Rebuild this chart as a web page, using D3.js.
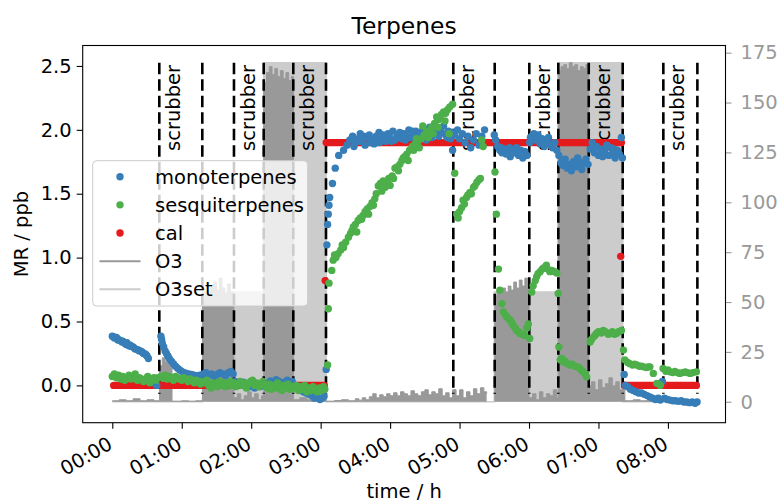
<!DOCTYPE html>
<html>
<head>
<meta charset="utf-8">
<script src="https://cdn.jsdelivr.net/npm/d3@7"></script>
<style>
  body { margin: 0; background: #fff; }
  text { font-family: "DejaVu Sans", sans-serif; }
</style>
</head>
<body>
<svg id="chart" width="779" height="502"></svg>
<script>
// ---- data (time in hours) ----
const hourTicks = [0, 1, 2, 3, 4, 5, 6, 7, 8]
const mrTicks = [0, 0.5, 1, 1.5, 2, 2.5]
const o3Ticks = [0, 25, 50, 75, 100, 125, 150, 175]

const scrubberStart = [0.677, 1.752, 2.606, 4.91, 6.004, 6.86, 7.934]
const scrubberEnd = [1.296, 2.18, 3.077, 5.506, 6.422, 7.349, 8.424]

const mono = [
  [0.00,0.385],[0.02,0.38],[0.03,0.37],[0.06,0.375],[0.08,0.355],[0.09,0.36],[0.12,0.35],[0.14,0.34],
  [0.15,0.345],[0.18,0.33],[0.20,0.32],[0.21,0.335],[0.24,0.31],[0.26,0.315],[0.27,0.305],[0.30,0.30],
  [0.32,0.29],[0.33,0.285],[0.36,0.28],[0.38,0.275],[0.39,0.27],[0.42,0.265],[0.44,0.255],[0.45,0.25],
  [0.48,0.245],[0.49,0.235],[0.50,0.23],[0.52,0.21],[0.56,0.03],[0.60,0.02],[0.64,0.0],
  [0.70,0.385],[0.71,0.36],[0.72,0.33],[0.74,0.30],[0.76,0.27],[0.78,0.25],[0.80,0.23],[0.82,0.21],
  [0.85,0.19],[0.88,0.17],[0.91,0.15],[0.94,0.135],[0.97,0.12],[1.00,0.11],[1.03,0.10],[1.06,0.095],
  [1.10,0.09],[1.14,0.085],[1.18,0.08],[1.22,0.075],[1.26,0.08],
  [1.31,0.09],[1.35,0.10],[1.39,0.08],[1.43,0.09],[1.47,0.07],[1.51,0.085],[1.55,0.10],[1.59,0.09],
  [1.63,0.075],[1.67,0.10],[1.71,0.11],[1.74,0.09],
  [1.77,0.03],[1.81,0.02],[1.85,0.01],[1.89,0.025],[1.93,0.0],[1.97,-0.01],[2.01,0.01],[2.05,-0.02],
  [2.09,0.0],[2.13,-0.01],[2.16,0.005],
  [2.20,0.02],[2.24,0.01],[2.28,0.035],[2.32,0.02],[2.36,0.045],[2.40,0.03],[2.44,0.01],[2.48,0.025],
  [2.52,0.04],[2.56,0.02],[2.59,0.03],
  [2.63,0.0],[2.67,-0.02],[2.71,-0.03],[2.75,-0.05],[2.79,-0.06],[2.83,-0.07],[2.87,-0.08],[2.91,-0.10],
  [2.95,-0.09],[2.99,-0.11],[3.02,-0.10],[3.05,-0.085],
  [3.08,0.125],[3.09,1.10],[3.10,1.26],[3.11,1.34],[3.12,1.41],[3.13,1.47],[3.17,1.58],[3.21,1.70],
  [3.26,1.80],[3.33,1.84],[3.38,1.88],[3.42,1.92],
  [3.46,1.95],[3.48,1.87],[3.50,1.90],[3.54,1.93],[3.56,1.91],[3.57,1.97],[3.60,1.91],[3.62,1.95],
  [3.64,1.88],[3.67,1.94],[3.70,1.96],[3.72,1.90],[3.74,1.92],[3.77,1.89],[3.79,1.93],[3.80,1.95],
  [3.84,1.98],[3.85,1.90],[3.87,1.93],[3.90,1.96],[3.92,1.94],[3.94,1.91],[3.97,1.97],[4.00,1.94],
  [4.02,1.91],[4.04,1.99],[4.07,1.92],[4.10,1.96],[4.12,1.94],[4.14,1.98],[4.17,1.93],[4.20,1.97],
  [4.22,1.92],[4.24,1.95],[4.27,2.00],[4.30,1.94],[4.32,1.99],[4.34,1.97],[4.37,1.99],[4.40,1.93],
  [4.42,1.97],[4.44,1.96],[4.47,2.00],[4.50,1.95],[4.52,1.92],[4.54,1.98],[4.57,2.02],[4.60,1.94],
  [4.62,2.00],[4.64,1.97],[4.67,2.01],[4.70,1.95],[4.72,1.99],[4.74,1.98],[4.77,2.03],[4.80,1.96],
  [4.82,1.94],[4.84,1.99],[4.87,1.93],[4.88,1.98],[4.90,1.84],
  [4.93,1.96],[4.97,2.00],[5.00,1.93],[5.04,1.97],[5.08,1.90],[5.12,1.95],[5.16,1.86],[5.20,1.92],
  [5.24,1.97],[5.28,1.88],[5.32,1.95],[5.36,2.00],
  [5.50,1.96],[5.52,1.92],[5.55,1.87],[5.58,1.84],[5.60,1.86],[5.61,1.82],[5.64,1.85],[5.67,1.81],
  [5.70,1.83],[5.72,1.86],[5.73,1.79],[5.76,1.84],[5.79,1.82],[5.82,1.86],[5.85,1.80],[5.86,1.83],
  [5.88,1.84],[5.91,1.78],[5.94,1.83],[5.97,1.80],
  [6.01,1.90],[6.02,1.94],[6.04,1.95],[6.07,1.97],[6.10,1.92],[6.13,1.96],[6.15,1.93],[6.16,1.89],
  [6.19,1.93],[6.22,1.87],[6.25,1.91],[6.27,1.90],[6.28,1.94],[6.31,1.88],[6.34,1.86],[6.37,1.90],[6.40,1.84],
  [6.43,1.80],[6.46,1.74],[6.48,1.76],[6.49,1.72],[6.52,1.77],[6.55,1.70],[6.58,1.73],[6.60,1.71],
  [6.61,1.68],[6.64,1.75],[6.67,1.71],[6.70,1.78],[6.72,1.75],[6.73,1.72],[6.76,1.69],[6.79,1.74],
  [6.82,1.77],[6.85,1.73],
  [6.88,1.85],[6.91,1.90],[6.93,1.86],[6.94,1.82],[6.97,1.87],[7.00,1.80],[7.03,1.85],[7.06,1.79],
  [7.08,1.82],[7.09,1.84],[7.12,1.88],[7.15,1.80],[7.18,1.86],[7.21,1.82],[7.22,1.85],[7.24,1.78],
  [7.27,1.84],[7.30,1.81],[7.33,1.94],[7.345,1.78],
  [7.37,0.086],[7.39,0.0],[7.42,-0.01],[7.46,-0.03],[7.50,-0.04],[7.54,-0.05],[7.58,-0.06],[7.62,-0.06],
  [7.66,-0.07],[7.70,-0.08],[7.74,-0.09],[7.78,-0.10],[7.82,-0.11],[7.86,-0.10],[7.89,-0.115],[7.92,0.03],
  [7.95,-0.10],[7.99,-0.11],[8.03,-0.115],[8.07,-0.12],[8.11,-0.12],[8.15,-0.125],[8.19,-0.12],[8.23,-0.13],
  [8.27,-0.13],[8.31,-0.135],[8.35,-0.13],[8.39,-0.14],[8.42,-0.13]
]

const sesqui = [
  [0.00,0.07],[0.03,0.09],[0.06,0.06],[0.09,0.08],[0.12,0.05],[0.15,0.07],[0.18,0.04],[0.21,0.06],
  [0.24,0.08],[0.27,0.05],[0.30,0.07],[0.33,0.09],[0.36,0.04],[0.39,0.06],[0.42,0.05],[0.45,0.03],
  [0.48,0.05],[0.51,0.07],[0.54,0.02],[0.57,0.05],[0.60,0.06],[0.63,0.04],[0.66,0.06],
  [0.70,0.07],[0.73,0.06],[0.76,0.08],[0.79,0.05],[0.82,0.07],[0.85,0.06],[0.88,0.04],[0.91,0.07],
  [0.94,0.06],[0.97,0.05],[1.00,0.04],[1.03,0.06],[1.06,0.05],[1.09,0.03],[1.12,0.05],[1.15,0.04],
  [1.18,0.02],[1.21,0.04],[1.24,0.03],[1.27,0.01],
  [1.30,0.03],[1.33,0.02],[1.36,0.04],[1.39,0.0],[1.42,-0.02],[1.45,0.02],[1.48,0.01],[1.51,-0.01],
  [1.54,0.03],[1.57,0.0],[1.60,0.02],[1.63,-0.01],[1.66,0.01],[1.69,0.03],[1.72,0.0],
  [1.75,0.02],[1.78,-0.01],[1.81,0.01],[1.84,0.03],[1.87,0.0],[1.90,0.02],[1.93,-0.02],[1.96,0.01],
  [1.99,0.03],[2.02,0.04],[2.05,0.0],[2.08,0.02],[2.11,-0.01],[2.14,0.01],[2.17,0.03],
  [2.20,0.0],[2.23,-0.02],[2.26,0.01],[2.29,-0.03],[2.32,0.0],[2.35,-0.02],[2.38,0.02],[2.41,-0.01],
  [2.44,-0.04],[2.47,0.0],[2.50,-0.02],[2.53,0.01],[2.56,-0.03],[2.59,-0.01],
  [2.62,-0.02],[2.65,0.0],[2.68,-0.04],[2.71,-0.01],[2.74,-0.03],[2.77,0.0],[2.80,-0.05],[2.83,-0.02],
  [2.86,-0.04],[2.89,-0.01],[2.92,-0.03],[2.95,-0.05],[2.98,-0.02],[3.01,-0.04],[3.04,-0.01],[3.06,-0.03],
  [3.10,0.16],[3.11,0.60],[3.12,0.80],[3.16,0.90],[3.18,0.98],[3.20,1.02],[3.22,1.00],[3.25,1.03],
  [3.29,1.06],[3.31,1.10],[3.33,1.08],[3.36,1.12],[3.40,1.16],[3.43,1.19],[3.45,1.21],[3.47,1.24],
  [3.50,1.26],[3.52,1.20],[3.54,1.29],[3.57,1.31],[3.59,1.30],[3.61,1.33],[3.64,1.36],[3.67,1.38],
  [3.69,1.34],[3.71,1.40],[3.74,1.43],[3.76,1.41],[3.78,1.46],[3.80,1.50],[3.83,1.56],[3.86,1.58],
  [3.88,1.52],[3.90,1.60],[3.93,1.55],[3.96,1.58],[3.98,1.62],[4.00,1.565],[4.03,1.64],[4.05,1.62],
  [4.07,1.70],[4.10,1.71],[4.12,1.68],[4.14,1.73],[4.17,1.76],[4.19,1.78],[4.21,1.79],[4.24,1.81],
  [4.26,1.76],[4.28,1.84],[4.32,1.87],[4.34,1.84],[4.36,1.89],[4.38,1.93],[4.40,1.91],[4.42,1.86],
  [4.45,1.93],[4.47,2.03],[4.49,1.96],[4.51,1.95],[4.53,1.99],[4.55,1.94],[4.57,1.98],[4.60,2.02],
  [4.62,1.97],[4.64,2.05],[4.67,2.10],[4.69,2.02],[4.70,2.08],[4.74,2.12],[4.77,2.14],[4.79,2.07],
  [4.80,2.13],[4.83,2.16],[4.85,1.97],[4.86,2.18],[4.90,2.20],
  [4.93,1.66],[4.96,1.34],[4.98,1.31],[5.00,1.36],[5.03,1.39],[5.05,1.45],[5.07,1.42],[5.10,1.47],
  [5.12,1.49],[5.15,1.51],[5.17,1.50],[5.20,1.55],[5.22,1.56],[5.25,1.59],[5.28,1.61],[5.30,1.62],
  [5.32,1.92],[5.34,1.87],
  [5.51,1.67],[5.53,1.34],[5.56,0.91],[5.58,0.745],[5.61,0.64],[5.63,0.575],[5.66,0.55],[5.68,0.536],
  [5.71,0.52],[5.73,0.51],[5.75,0.49],[5.77,0.47],[5.80,0.45],[5.82,0.43],[5.85,0.42],[5.87,0.406],
  [5.90,0.40],[5.94,0.39],[5.97,0.45],[5.99,0.48],[6.01,0.367],
  [6.04,0.73],[6.06,0.78],[6.09,0.82],[6.11,0.85],[6.13,0.875],[6.16,0.89],[6.19,0.91],[6.21,0.92],
  [6.25,0.94],[6.27,0.91],[6.30,0.89],[6.33,0.90],[6.37,0.89],[6.40,0.88],[6.42,0.72],
  [6.43,0.30],[6.45,0.20],[6.47,0.21],[6.49,0.185],[6.52,0.19],[6.55,0.17],[6.59,0.16],[6.62,0.165],
  [6.66,0.15],[6.69,0.145],[6.72,0.14],[6.75,0.12],[6.78,0.106],[6.81,0.09],[6.83,0.067],
  [6.88,0.34],[6.90,0.36],[6.93,0.38],[6.95,0.39],[6.97,0.406],[7.00,0.42],[7.04,0.41],[7.07,0.43],
  [7.10,0.42],[7.14,0.40],[7.17,0.406],[7.20,0.42],[7.23,0.40],[7.26,0.406],[7.29,0.42],[7.33,0.43],
  [7.36,0.276],[7.38,0.20],[7.42,0.18],[7.45,0.17],[7.49,0.16],[7.52,0.165],[7.55,0.159],[7.59,0.15],
  [7.62,0.15],[7.65,0.145],[7.69,0.14],[7.72,0.145],[7.74,0.145],[7.79,0.094],[7.84,0.016],[7.87,0.01],
  [7.89,0.0],[7.93,0.133],[7.97,0.11],[8.00,0.12],[8.03,0.106],[8.07,0.10],[8.10,0.11],[8.14,0.10],
  [8.17,0.094],[8.21,0.10],[8.25,0.105],[8.28,0.10],[8.32,0.094],[8.36,0.10],[8.41,0.106]
]

// calibration: [start, end, value] runs of dense points, plus single points
const calRuns = [[0.02, 3.05, 0.0], [3.08, 7.33, 1.9], [7.38, 8.41, 0.0]]
const calSingles = [[3.065, 0.82], [7.32, 1.01]]

// measured ozone (right axis), step values; null = no data
const o3 = [
  [0.00,0.5],[0.10,1],[0.20,0.5],[0.30,1.5],[0.40,0.5],[0.50,1],[0.60,0.5],
  [0.68,18],[0.72,22],[0.76,20],[0.80,24],[0.84,19],
  [0.86,0.3],[1.00,0.5],[1.10,0.3],[1.20,0.5],
  [1.30,52],[1.34,55],[1.38,53],[1.42,58],[1.46,60],[1.50,56],[1.54,62],[1.58,57],[1.62,54],[1.66,59],[1.70,55],
  [1.75,2],[1.80,4],[1.85,1],[1.90,3],[1.95,5],[2.00,2],[2.05,4],[2.10,1],[2.15,3],
  [2.18,160],[2.22,165],[2.26,168],[2.30,164],[2.34,167],[2.38,163],[2.42,166],[2.46,162],[2.50,165],[2.54,161],[2.58,163],
  [2.61,1],[2.70,2],[2.80,1],[2.90,2],[3.00,1],
  [3.08,0.3],[3.20,0.6],[3.30,1],[3.40,0.5],[3.50,1.5],[3.55,0.8],[3.60,2],[3.65,1],[3.70,2.5],[3.75,4],
  [3.80,2],[3.85,3.5],[3.90,2.5],[3.95,4],[4.00,3],[4.05,4.5],[4.10,3],[4.15,5],[4.20,4],[4.25,3],
  [4.30,5.5],[4.35,4],[4.40,3],[4.45,5],[4.50,6],[4.55,3.5],[4.60,5],[4.65,4],[4.70,6.5],[4.75,3],
  [4.80,4.5],[4.85,2],[4.90,6],[4.95,3],[5.00,6],[5.05,2],[5.10,5],[5.15,3],[5.20,6.5],[5.25,4],
  [5.30,7],[5.35,5],[5.39,4],[5.40,null],
  [5.50,53],[5.54,56],[5.58,54],[5.62,57],[5.66,55],[5.70,58],[5.74,56],[5.78,60],[5.82,57],[5.86,61],[5.90,58],[5.94,62],[5.98,59],
  [6.00,2],[6.05,4],[6.10,1],[6.15,5],[6.20,2],[6.25,4],[6.30,3],[6.35,6],[6.40,2],
  [6.42,166],[6.46,168],[6.50,169],[6.54,167],[6.58,170],[6.62,168],[6.66,169],[6.70,166],[6.74,168],[6.78,167],[6.82,169],
  [6.86,8],[6.90,10],[6.95,6],[7.00,11],[7.05,7],[7.10,9],[7.15,12],[7.20,8],[7.25,10],[7.30,6],[7.35,10],
  [7.38,0.5],[7.50,1],[7.60,0.5],[7.70,1],[7.80,0.5],[7.90,0.3],[8.00,0.5],[8.10,0.3],[8.20,0.5],[8.30,0.3],[8.42,0.3]
]

// ozone set point (right axis), step values
const o3set = [[0.00,0],[1.30,55],[2.18,170],[3.08,0],[5.50,55],[6.42,170],[7.35,0],[8.42,0]]

// ---- layout ----
const svg = d3.select('#chart')
const mLeft = 82.7, mRight = 725.5, mTop = 45.5, mBottom = 422.7
const fs = 19.5

const x = d3.scaleLinear().domain([-0.426, 8.829]).range([mLeft, mRight])
const yL = d3.scaleLinear().domain([-0.292, 2.66]).range([mBottom, mTop])
const yR = d3.scaleLinear().domain([-10.5, 178.6]).range([mBottom, mTop])

const colors = { mono: '#377eb8', sesqui: '#4daf4a', cal: '#e41a1c', o3: '#999999', o3set: '#cccccc' }
const r = 3.7

svg.append('defs').append('clipPath').attr('id', 'clip')
  .append('rect').attr('x', mLeft).attr('y', mTop).attr('width', mRight - mLeft).attr('height', mBottom - mTop)

const plotG = svg.append('g').attr('clip-path', 'url(#clip)')

// ozone set point
const setArea = d3.area().curve(d3.curveStepAfter)
  .x(d => x(d[0])).y0(yR(0)).y1(d => yR(d[1]))
plotG.append('path').datum(o3set).attr('d', setArea).attr('fill', colors.o3set)
plotG.append('path').datum(o3set)
  .attr('d', d3.line().curve(d3.curveStepAfter).x(d => x(d[0])).y(d => yR(d[1])))
  .attr('fill', 'none').attr('stroke', colors.o3set).attr('stroke-width', 1.5)

// measured ozone
const o3Area = d3.area().curve(d3.curveStepAfter).defined(d => d[1] != null)
  .x(d => x(d[0])).y0(yR(0)).y1(d => yR(d[1]))
plotG.append('path').datum(o3).attr('d', o3Area).attr('fill', colors.o3)
plotG.append('path').datum(o3)
  .attr('d', d3.line().curve(d3.curveStepAfter).defined(d => d[1] != null).x(d => x(d[0])).y(d => yR(d[1])))
  .attr('fill', 'none').attr('stroke', colors.o3).attr('stroke-width', 1)

// scrubber markers
const edges = scrubberStart.concat(scrubberEnd)
plotG.selectAll('line.scrub').data(edges).enter().append('line')
  .attr('class', 'scrub')
  .attr('x1', d => x(d)).attr('x2', d => x(d))
  .attr('y1', yR(170)).attr('y2', yR(4))
  .attr('stroke', '#000').attr('stroke-width', 2.6).attr('stroke-dasharray', '11.5,5')

plotG.selectAll('text.scrub').data(scrubberStart).enter().append('text')
  .attr('class', 'scrub')
  .attr('transform', d => `translate(${x(d) + 21},${yL(2.5) - 1}) rotate(-90)`)
  .attr('text-anchor', 'end')
  .attr('font-size', fs)
  .text('scrubber')

// calibration
plotG.selectAll('line.cal').data(calRuns).enter().append('line')
  .attr('class', 'cal')
  .attr('x1', d => x(d[0])).attr('x2', d => x(d[1]))
  .attr('y1', d => yL(d[2])).attr('y2', d => yL(d[2]))
  .attr('stroke', colors.cal).attr('stroke-width', 2 * r).attr('stroke-linecap', 'round')
plotG.selectAll('circle.cal').data(calSingles).enter().append('circle')
  .attr('class', 'cal')
  .attr('cx', d => x(d[0])).attr('cy', d => yL(d[1])).attr('r', r).attr('fill', colors.cal)

// terpenes
plotG.selectAll('circle.mono').data(mono).enter().append('circle')
  .attr('class', 'mono')
  .attr('cx', d => x(d[0])).attr('cy', d => yL(d[1])).attr('r', r).attr('fill', colors.mono)
plotG.selectAll('circle.sesqui').data(sesqui).enter().append('circle')
  .attr('class', 'sesqui')
  .attr('cx', d => x(d[0])).attr('cy', d => yL(d[1])).attr('r', r).attr('fill', colors.sesqui)

// ---- axes ----
const fmtHour = d => String(d).padStart(2, '0') + ':00'

const gL = svg.append('g').attr('transform', `translate(${mLeft},0)`)
  .call(d3.axisLeft(yL).tickValues(mrTicks).tickFormat(d3.format('.1f')).tickSize(6).tickPadding(5))
gL.select('.domain').remove()
gL.selectAll('text').attr('font-size', fs).attr('font-family', 'DejaVu Sans').attr('fill', '#000')
gL.selectAll('line').attr('stroke-width', 1.1)

const gR = svg.append('g').attr('transform', `translate(${mRight},0)`)
  .call(d3.axisRight(yR).tickValues(o3Ticks).tickSize(6).tickPadding(9))
gR.select('.domain').remove()
gR.selectAll('text').attr('font-size', fs).attr('font-family', 'DejaVu Sans').attr('fill', '#999999')
gR.selectAll('line').attr('stroke', '#999999').attr('stroke-width', 1.1)

const gB = svg.append('g').attr('transform', `translate(0,${mBottom})`)
  .call(d3.axisBottom(x).tickValues(hourTicks).tickFormat(fmtHour).tickSize(6))
gB.select('.domain').remove()
gB.selectAll('line').attr('stroke-width', 1.1)
gB.selectAll('text')
  .attr('y', 0).attr('dy', '0.72em')
  .attr('transform', 'translate(-6,13) rotate(-30)')
  .attr('text-anchor', 'end')
  .attr('font-size', fs).attr('font-family', 'DejaVu Sans').attr('fill', '#000')

// frame
svg.append('rect').attr('x', mLeft).attr('y', mTop).attr('width', mRight - mLeft).attr('height', mBottom - mTop)
  .attr('fill', 'none').attr('stroke', '#000').attr('stroke-width', 1.1)

// labels
svg.append('text').attr('x', (mLeft + mRight) / 2).attr('y', 34).attr('text-anchor', 'middle')
  .attr('font-size', fs * 1.2).text('Terpenes')
svg.append('text').attr('x', (mLeft + mRight) / 2).attr('y', 498).attr('text-anchor', 'middle')
  .attr('font-size', fs).text('time / h')
svg.append('text').attr('transform', `translate(28,${(mTop + mBottom) / 2}) rotate(-90)`)
  .attr('text-anchor', 'middle').attr('font-size', fs).text('MR / ppb')

// ---- legend ----
const legendItems = [
  { label: 'monoterpenes', color: colors.mono, type: 'dot' },
  { label: 'sesquiterpenes', color: colors.sesqui, type: 'dot' },
  { label: 'cal', color: colors.cal, type: 'dot' },
  { label: 'O3', color: colors.o3, type: 'line' },
  { label: 'O3set', color: colors.o3set, type: 'line' }
]
const lg = svg.append('g')
lg.append('rect').attr('x', 92.7).attr('y', 160.7).attr('width', 215).attr('height', 145.3)
  .attr('rx', 4).attr('fill', '#fff').attr('fill-opacity', 0.8)
  .attr('stroke', '#cccccc').attr('stroke-width', 1)
const rows = lg.selectAll('g.item').data(legendItems).enter().append('g')
  .attr('class', 'item')
  .attr('transform', (d, i) => `translate(0,${176.7 + i * 28.15})`)
rows.filter(d => d.type === 'dot').append('circle')
  .attr('cx', 120).attr('cy', 0).attr('r', r).attr('fill', d => d.color)
rows.filter(d => d.type === 'line').append('line')
  .attr('x1', 99.5).attr('x2', 140.5).attr('y1', 0).attr('y2', 0)
  .attr('stroke', d => d.color).attr('stroke-width', 2)
rows.append('text').attr('x', 155).attr('y', 0).attr('dy', '0.35em')
  .attr('font-size', fs).text(d => d.label)
</script>
</body>
</html>
